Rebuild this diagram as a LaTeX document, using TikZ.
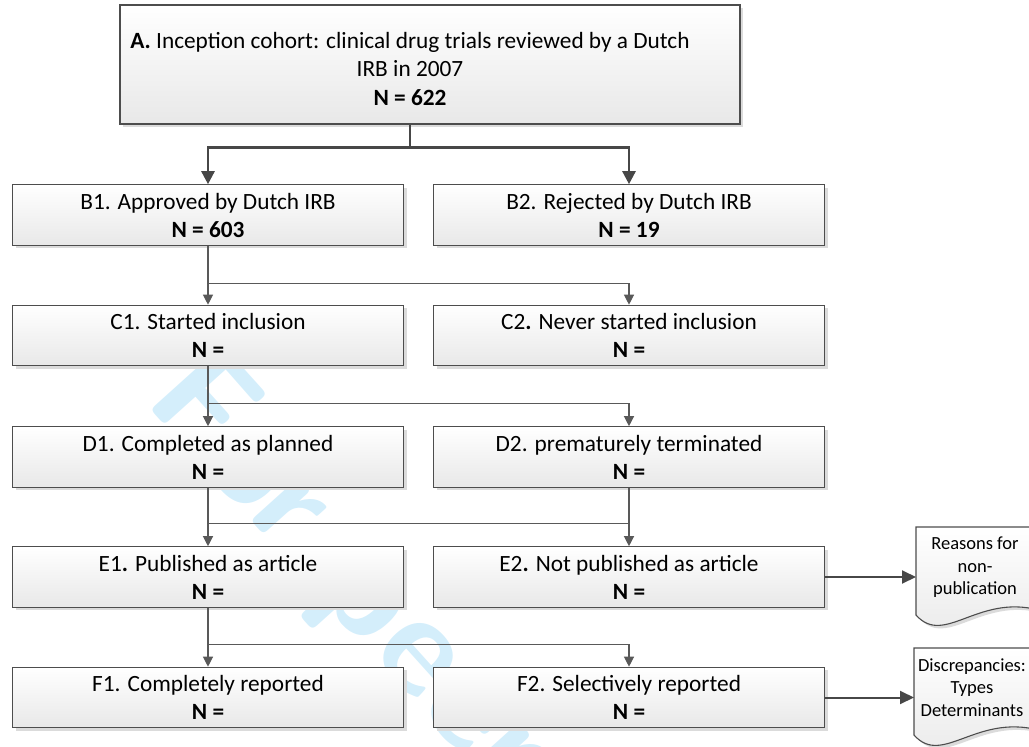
\documentclass[tikz,border=0pt]{standalone}
\usepackage{fontspec}
\setmainfont{Carlito}
\usetikzlibrary{arrows.meta,shadows}
\definecolor{lineg}{HTML}{595959}
\definecolor{darkline}{HTML}{474747}
\definecolor{boxborder}{HTML}{4D4D4D}
\definecolor{wmblue}{HTML}{D4EEFB}
\begin{document}
\begin{tikzpicture}[x=1pt,y=-1pt,
  boxbase/.style={draw=boxborder, line width=1.1pt, top color=white, bottom color=black!9,
    drop shadow={shadow xshift=3pt, shadow yshift=-3pt, fill=black!14, opacity=1}},
  box/.style={boxbase, minimum width=391pt, minimum height=60.5pt, inner sep=0pt, align=center,
    font=\fontsize{23.3}{28}\selectfont},
  txt/.style={align=center, inner sep=0pt, font=\fontsize{23.3}{28.5}\selectfont},
  doctext/.style={align=center, inner sep=0pt, font=\fontsize{18.5}{22.5}\selectfont},
  conn/.style={draw=lineg, line width=1.2pt, -{Triangle[width=10pt,length=10pt]}},
  plain/.style={draw=lineg, line width=1.2pt},
  conA/.style={draw=darkline, line width=2.5pt, -{Triangle[width=13pt,length=13pt]}},
  conD/.style={draw=darkline, line width=2pt, -{Triangle[width=13pt,length=14pt]}},
  docshape/.style={draw=boxborder, line width=1.1pt, top color=white, bottom color=black!9,
    drop shadow={shadow xshift=3pt, shadow yshift=-3pt, fill=black!14, opacity=1}}]
\useasboundingbox (0,0) rectangle (1029,747);
\clip (0,0) rectangle (1029,747);

% watermark
\node[text=wmblue, rotate=-48, anchor=base west, inner sep=0pt,
  font=\fontsize{140}{140}\selectfont\bfseries\sffamily] (wmark) at (142,400) {For peer};

% top box
\node[boxbase, minimum width=620pt, minimum height=119pt, inner sep=0pt] (A) at (430,64.5) {};
\node[txt] (Atext) at (410,68.5) {\textbf{A.} Inception cohort: clinical drug trials reviewed by a Dutch\\IRB in 2007\\\textbf{N = 622}};

% boxes
\node[box] (B1) at (208,215) {B1. Approved by Dutch IRB\\\textbf{N = 603}};
\node[box] (B2) at (629,215) {B2. Rejected by Dutch IRB\\\textbf{N = 19}};
\node[box] (C1) at (208,335.5) {C1. Started inclusion\\\textbf{N =}};
\node[box] (C2) at (629,335.5) {C2\textbf{.} Never started inclusion\\\textbf{N =}};
\node[box] (D1) at (208,457) {D1. Completed as planned\\\textbf{N =}};
\node[box] (D2) at (629,457) {D2. prematurely terminated\\\textbf{N =}};
\node[box] (E1) at (208,577) {E1\textbf{.} Published as article\\\textbf{N =}};
\node[box] (E2) at (629,577) {E2\textbf{.} Not published as article\\\textbf{N =}};
\node[box] (F1) at (208,697.5) {F1. Completely reported\\\textbf{N =}};
\node[box] (F2) at (629,697.5) {F2. Selectively reported\\\textbf{N =}};

% document shapes
\path[docshape] (916,527) -- (1045,527) -- (1045,612)
  .. controls (980,590) and (945,648) .. (916,615) -- cycle;
\path[docshape] (914,648) -- (1045,648) -- (1045,732)
  .. controls (978,710) and (943,768) .. (914,735) -- cycle;
\node[doctext] (R1) at (975,567.5) {Reasons for\\non-\\publication};
\node[doctext] (R2) at (972,687.5) {Discrepancies:\\Types\\Determinants};
\coordinate (R1w) at (916,577);
\coordinate (R2w) at (914,697.5);

% connectors from A
\draw[conA] (Atext |- A.south) -- ++(0,23) -| (B1.north);
\draw[conA] (Atext |- A.south) -- ++(0,23) -| (B2.north);

% B -> C
\draw[conn] (B1.south) -- (C1.north);
\draw[conn] (B1.south) ++(0,38) -| (C2.north);
% C -> D
\draw[conn] (C1.south) -- (D1.north);
\draw[conn] (C1.south) ++(0,37) -| (D2.north);
% D -> E
\draw[conn] (D1.south) -- (E1.north);
\draw[conn] (D2.south) -- (E2.north);
\draw[plain] (D1.south) ++(0,36) -- ++(421,0);
% E -> F
\draw[conn] (E1.south) -- (F1.north);
\draw[conn] (E1.south) ++(0,37) -| (F2.north);

% to documents
\draw[conD] (E2.east) -- (R1w);
\draw[conD] (F2.east) -- (R2w);
\end{tikzpicture}
\end{document}
